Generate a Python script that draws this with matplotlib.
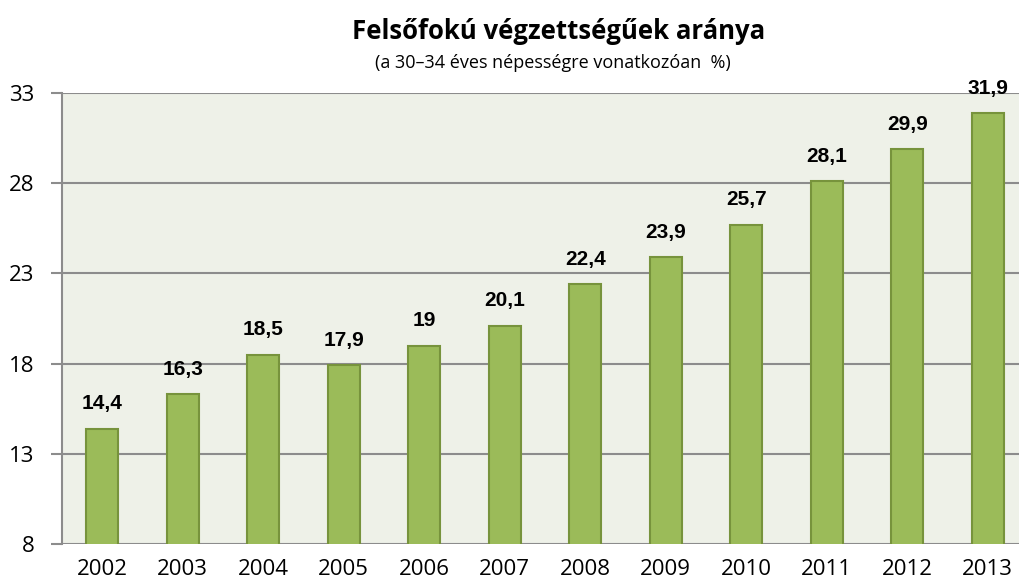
import matplotlib
matplotlib.use("Agg")
import matplotlib.pyplot as plt
from matplotlib import font_manager

years = ["2002", "2003", "2004", "2005", "2006", "2007",
         "2008", "2009", "2010", "2011", "2012", "2013"]
values = [14.4, 16.3, 18.5, 17.9, 19, 20.1, 22.4, 23.9, 25.7, 28.1, 29.9, 31.9]
value_labels = ["14,4", "16,3", "18,5", "17,9", "19", "20,1",
                "22,4", "23,9", "25,7", "28,1", "29,9", "31,9"]
yticks = [8, 13, 18, 23, 28, 33]

names = {f.name for f in font_manager.fontManager.ttflist}
narrow = "Liberation Sans Narrow" if "Liberation Sans Narrow" in names else "Liberation Sans"
main_font = "Open Sans"

fig = plt.figure(figsize=(10.2, 5.87), dpi=100)
# plot area runs off the right edge like the original
ax = fig.add_axes([62 / 1020, 43 / 587, 966 / 1020, 451 / 587])
ax.set_facecolor("#eef1e8")

x = range(len(years))
ax.bar(x, values, width=0.4, color="#9bbb59", edgecolor="#77933c",
       linewidth=1.5, zorder=3)

for xi, v, lab in zip(x, values, value_labels):
    ax.annotate(lab, (xi, v), xytext=(0, 11), textcoords="offset points",
                ha="center", va="bottom", fontsize=15, fontweight="bold",
                family=narrow, fontstretch="condensed", color="black", zorder=4)

ax.set_xlim(-0.5, len(years) - 0.5)
ax.set_ylim(8, 33)
ax.set_yticks(yticks)
ax.set_yticklabels([str(t) for t in yticks], fontsize=16, family=main_font)
ax.set_xticks(list(x))
ax.set_xticklabels(years, fontsize=16, family=main_font)
ax.tick_params(axis="x", length=0, pad=11)
ax.tick_params(axis="y", length=8, width=1.5, color="#8c8c8c", pad=12)

ax.grid(axis="y", color="#8c8c8c", linewidth=1.5, zorder=1)
ax.set_axisbelow(True)
for s in ["top", "right", "bottom"]:
    ax.spines[s].set_visible(False)
ax.spines["left"].set_color("#8c8c8c")
ax.spines["left"].set_linewidth(1.5)

fig.text(0.548, 0.947, "Felsőfokú végzettségűek aránya", ha="center", va="center",
         fontsize=18.5, fontweight="bold", family=main_font)
fig.text(0.542, 0.893, "(a 30\u201334 éves népességre vonatkozóan  %)", ha="center",
         va="center", fontsize=13, family=main_font)

fig.savefig("out.png", dpi=100)
